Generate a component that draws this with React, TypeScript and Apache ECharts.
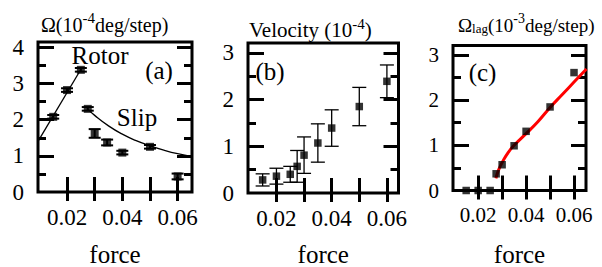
import React, { useEffect, useRef } from 'react';
import * as echarts from 'echarts';

const FONT = 'Liberation Serif, serif';

// ---------- panel (a): Omega (1e-4 deg/step) vs force ----------
const rotorForce = [0.015, 0.02, 0.025];
const rotorOmega = [2.08, 2.82, 3.38];
const rotorErr = [0.05, 0.05, 0.05];
const slipForce = [0.0275, 0.03, 0.0345, 0.04, 0.05, 0.06];
const slipOmega = [2.3, 1.62, 1.37, 1.09, 1.25, 0.43];
const slipErr = [0.05, 0.12, 0.08, 0.05, 0.05, 0.08];
const rotorFitForce = [0.0095, 0.0253];
const rotorFitOmega = [1.4, 3.43];
const slipFitForce = [0.0274, 0.03, 0.035, 0.04, 0.045, 0.05, 0.055, 0.06, 0.0652];
const slipFitOmega = [2.3, 2.12, 1.83, 1.6, 1.42, 1.28, 1.16, 1.06, 0.98];

// ---------- panel (b): velocity (1e-4) vs force ----------
const velForce = [0.015, 0.02, 0.025, 0.0275, 0.03, 0.035, 0.04, 0.05, 0.06];
const velocity = [0.28, 0.36, 0.4, 0.57, 0.81, 1.07, 1.39, 1.85, 2.39];
const velErr = [0.13, 0.17, 0.17, 0.34, 0.39, 0.41, 0.39, 0.41, 0.35];

// ---------- panel (c): Omega_lag (1e-3 deg/step) vs force ----------
const lagForce = [0.015, 0.02, 0.025, 0.0275, 0.03, 0.035, 0.04, 0.05, 0.06];
const lagOmega = [0, 0, 0, 0.37, 0.57, 0.99, 1.31, 1.85, 2.61];
const lagFitForce = [0.0274, 0.0285, 0.03, 0.0325, 0.035, 0.0404, 0.045, 0.0502, 0.055, 0.06, 0.0652];
const lagFitOmega = [0.27, 0.45, 0.62, 0.84, 1.0, 1.28, 1.53, 1.85, 2.12, 2.4, 2.69];

// ---------- ticks ----------
const forceTicks = [0.02, 0.03, 0.04, 0.05, 0.06];
const forceLabels = [0.02, 0.04, 0.06];
const yLabelsA = [0, 1, 2, 3, 4];
const yMajorA = [1, 2, 3, 4];
const yMinorA = [0.5, 1.5, 2.5, 3.5];
const yLabelsBC = [0, 1, 2, 3];
const yMajorBC = [1, 2, 3];
const yMinorBC = [0.5, 1.5, 2.5];

const zip = (xs: number[], ys: number[], es?: number[]) =>
  xs.map((x, i) => (es ? [x, ys[i], es[i]] : [x, ys[i]]));

const panels = [
  { grid: { left: 38, top: 42, width: 154, height: 150 }, xMin: 0.0095, xMax: 0.0652, yMax: 4.15,
    yLabels: yLabelsA, yMajor: yMajorA, yMinor: yMinorA, labelSize: 23, nameGap: 52.5 },
  { grid: { left: 248, top: 43, width: 150.5, height: 150 }, xMin: 0.0097, xMax: 0.0642, yMax: 3.21,
    yLabels: yLabelsBC, yMajor: yMajorBC, yMinor: yMinorBC, labelSize: 23, nameGap: 51.5 },
  { grid: { left: 453, top: 45.5, width: 133, height: 145 }, xMin: 0.0095, xMax: 0.065, yMax: 3.21,
    yLabels: yLabelsBC, yMajor: yMajorBC, yMinor: yMinorBC, labelSize: 21, nameGap: 54 },
];

const tickStyle = { color: '#000', width: 3 };

function errRender(hw: number, lw: number) {
  return (params: any, api: any) => {
    const x = api.value(0), y = api.value(1), e = api.value(2);
    const t = api.coord([x, y + e]);
    const b = api.coord([x, y - e]);
    const style = { stroke: '#000', lineWidth: lw, fill: 'none' };
    return {
      type: 'group',
      children: [
        { type: 'line', shape: { x1: t[0], y1: t[1], x2: b[0], y2: b[1] }, style },
        { type: 'line', shape: { x1: t[0] - hw, y1: t[1], x2: t[0] + hw, y2: t[1] }, style },
        { type: 'line', shape: { x1: b[0] - hw, y1: b[1], x2: b[0] + hw, y2: b[1] }, style },
      ],
    };
  };
}

export default function App() {
  const ref = useRef<HTMLDivElement>(null);
  useEffect(() => {
    if (!ref.current) return;
    const chart = echarts.init(ref.current, null, { renderer: 'svg' });
    const xAxis: any[] = [];
    const yAxis: any[] = [];
    panels.forEach((p, i) => {
      const common = { type: 'value', gridIndex: i, axisLine: { show: false }, splitLine: { show: false } };
      xAxis.push({
        ...common, position: 'bottom', min: p.xMin, max: p.xMax,
        name: 'force', nameLocation: 'middle', nameGap: p.nameGap,
        nameTextStyle: { fontSize: 25, lineHeight: 20, fontFamily: FONT, color: '#000', fontWeight: 'normal' },
        axisTick: { show: true, inside: true, length: 15, lineStyle: tickStyle, customValues: forceTicks },
        axisLabel: { customValues: forceLabels, formatter: (v: number) => v.toFixed(2),
          fontSize: p.labelSize, fontFamily: FONT, color: '#000', margin: 14 },
      });
      xAxis.push({
        ...common, position: 'top', min: p.xMin, max: p.xMax,
        axisTick: { show: true, inside: true, length: 9, lineStyle: tickStyle, customValues: forceTicks },
        axisLabel: { show: false },
      });
      const yc = { ...common, min: 0, max: p.yMax };
      yAxis.push({
        ...yc, position: 'left',
        axisTick: { show: true, inside: true, length: 16, lineStyle: tickStyle, customValues: p.yMajor },
        axisLabel: { customValues: p.yLabels, formatter: (v: number) => String(v),
          fontSize: p.labelSize, fontFamily: FONT, color: '#000', margin: 14 },
      });
      yAxis.push({
        ...yc, position: 'left',
        axisTick: { show: true, inside: true, length: 8, lineStyle: tickStyle, customValues: p.yMinor },
        axisLabel: { show: false },
      });
      yAxis.push({
        ...yc, position: 'right',
        axisTick: { show: true, inside: true, length: 15, lineStyle: tickStyle, customValues: p.yMajor },
        axisLabel: { show: false },
      });
      yAxis.push({
        ...yc, position: 'right',
        axisTick: { show: true, inside: true, length: 8, lineStyle: tickStyle, customValues: p.yMinor },
        axisLabel: { show: false },
      });
    });

    const ax = (i: number) => ({ xAxisIndex: 2 * i, yAxisIndex: 4 * i });
    const square = (size: number) => ({ type: 'scatter', symbol: 'rect', symbolSize: size,
      itemStyle: { color: '#000' }, clip: false, z: 5 });
    const fitLine = (color: string, width: number, smooth: boolean) => ({
      type: 'line', showSymbol: false, smooth, lineStyle: { color, width }, z: 3, clip: true,
    });

    const series: any[] = [
      // panel a
      { ...fitLine('#000', 1.3, false), ...ax(0), data: zip(rotorFitForce, rotorFitOmega) },
      { ...fitLine('#000', 1.3, true), ...ax(0), data: zip(slipFitForce, slipFitOmega) },
      { type: 'custom', ...ax(0), renderItem: errRender(6, 2), data: zip(rotorForce, rotorOmega, rotorErr), z: 4 },
      { type: 'custom', ...ax(0), renderItem: errRender(6, 2), data: zip(slipForce, slipOmega, slipErr), z: 4 },
      { ...square(8), ...ax(0), data: zip(rotorForce, rotorOmega) },
      { ...square(8), ...ax(0), data: zip(slipForce, slipOmega) },
      // panel b
      { type: 'custom', ...ax(1), renderItem: errRender(7, 1.3), data: zip(velForce, velocity, velErr), z: 4 },
      { ...square(7.5), ...ax(1), data: zip(velForce, velocity) },
      // panel c
      { ...fitLine('#ff0000', 3, true), ...ax(2), data: zip(lagFitForce, lagFitOmega) },
      { ...square(7.5), ...ax(2), data: zip(lagForce, lagOmega) },
    ];

    const richBase = (main: number, sup: number, sub: number) => ({
      m: { fontSize: main, fontFamily: FONT, fontWeight: 'normal', color: '#000', lineHeight: 24, verticalAlign: 'bottom' },
      sup: { fontSize: sup, fontFamily: FONT, fontWeight: 'normal', color: '#000', lineHeight: 12, verticalAlign: 'top' },
      sub: { fontSize: sub, fontFamily: FONT, fontWeight: 'normal', color: '#000', lineHeight: 8, verticalAlign: 'bottom' },
    });
    const titleStyle = (main: number, sup: number, sub: number) => ({
      fontWeight: 'normal', fontFamily: FONT, color: '#000', fontSize: main, rich: richBase(main, sup, sub),
    });

    const annot = (text: string, x: number, y: number) => ({
      type: 'text', x, y, z: 10,
      style: { text, fontSize: 25, fontFamily: FONT, fontWeight: 'normal', fill: '#000',
        textAlign: 'center', textVerticalAlign: 'middle' },
    });

    chart.setOption({
      animation: false,
      backgroundColor: '#fff',
      textStyle: { fontFamily: FONT },
      title: [
        { text: '{m|Ω(10}{sup|-4}{m|deg/step)}', left: 41, top: 10.5, padding: 0,
          textStyle: titleStyle(20, 15, 14) },
        { text: '{m|Velocity (10}{sup|-4}{m|)}', left: 249, top: 16.5, padding: 0,
          textStyle: titleStyle(21, 15, 14) },
        { text: '{m|Ω}{sub|lag}{m|(10}{sup|-3}{m|deg/step)}', left: 458, top: 11, padding: 0,
          textStyle: titleStyle(19, 14, 13) },
      ],
      grid: panels.map((p) => ({ ...p.grid, show: true, borderWidth: 3, borderColor: '#000',
        backgroundColor: 'transparent', containLabel: false, outerBoundsMode: 'none' })),
      xAxis, yAxis, series,
      graphic: [
        annot('Rotor', 100, 55),
        annot('(a)', 159, 70),
        annot('Slip', 137, 117),
        annot('(b)', 270, 71.5),
        annot('(c)', 482.5, 72),
      ],
    });
    return () => chart.dispose();
  }, []);
  return <div ref={ref} style={{ position: 'absolute', left: 0, top: 0, width: 602, height: 267 }} />;
}
